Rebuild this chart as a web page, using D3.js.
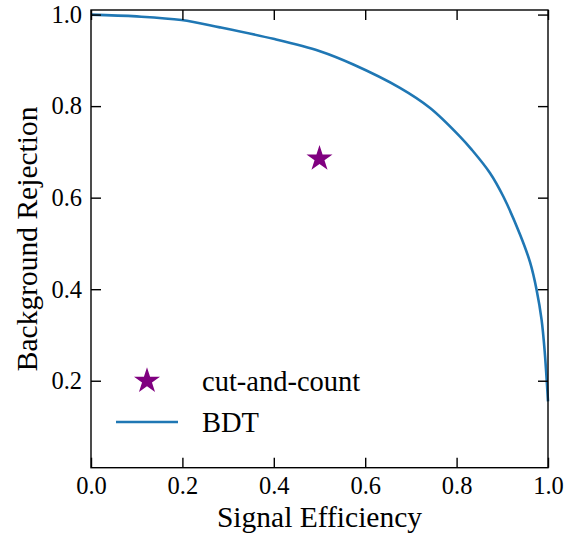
<!DOCTYPE html>
<html>
<head>
<meta charset="utf-8">
<script src="https://cdn.jsdelivr.net/npm/d3@7"></script>
<style>
html,body{margin:0;padding:0;background:#fff;}
svg{display:block;}
svg text{font-family:"Liberation Serif","Times New Roman","DejaVu Serif",serif !important;fill:#000;}
</style>
</head>
<body>
<svg id="chart" width="580" height="534"></svg>
<script>
// Data
const sigEff = [0, 0.1, 0.198, 0.282, 0.399, 0.501, 0.574, 0.676, 0.742, 0.807, 0.833, 0.873, 0.902, 0.939, 0.961, 0.975, 0.986, 0.993, 0.998, 1.0];
const bkgRej = [1.0, 0.996, 0.988, 0.972, 0.947, 0.920, 0.891, 0.840, 0.796, 0.734, 0.705, 0.654, 0.603, 0.519, 0.458, 0.399, 0.333, 0.261, 0.188, 0.155];
const cutCountEff = [0.5];
const cutCountRej = [0.685];
const xTicks = [0.0, 0.2, 0.4, 0.6, 0.8, 1.0];
const yTicks = [0.2, 0.4, 0.6, 0.8, 1.0];
const seriesNames = ["cut-and-count", "BDT"];

const svg = d3.select("#chart");
const L = 91, R = 548, T = 10, B = 467.7;
const x = d3.scaleLinear().domain([0, 1]).range([L, R]);
const y = d3.scaleLinear().domain([0.01, 1.01]).range([B, T]);
const fmt = d3.format(".1f");

// Curve
const pts = sigEff.map((d, i) => [d, bkgRej[i]]);
svg.append("path")
  .datum(pts)
  .attr("fill", "none")
  .attr("stroke", "#1f77b4")
  .attr("stroke-width", 2.6)
  .attr("d", d3.line().x(d => x(d[0])).y(d => y(d[1])).curve(d3.curveCatmullRom.alpha(0.5)));

// Star
const star = d3.symbol().type(d3.symbolStar).size(210);
svg.selectAll("path.star").data(cutCountEff).enter().append("path")
  .attr("class", "star")
  .attr("transform", (d, i) => `translate(${x(d)},${y(cutCountRej[i])})`)
  .attr("d", star)
  .attr("fill", "#800080");

// Axes with inward ticks
function styleAxis(g, showLabels) {
  g.select(".domain").remove();
  g.selectAll(".tick line").attr("stroke", "#000").attr("stroke-width", 1.4);
  g.selectAll(".tick text").style("font-size", "24.5px");
  if (!showLabels) g.selectAll(".tick text").remove();
}
const gx = svg.append("g").attr("transform", `translate(0,${B})`)
  .call(d3.axisBottom(x).tickValues(xTicks).tickFormat(fmt).tickSizeInner(-10).tickSizeOuter(0).tickPadding(9));
styleAxis(gx, true);
gx.selectAll(".tick text").attr("dy", null).attr("y", 26);
const gxt = svg.append("g").attr("transform", `translate(0,${T})`)
  .call(d3.axisTop(x).tickValues(xTicks).tickSizeInner(-10).tickSizeOuter(0));
styleAxis(gxt, false);
const gy = svg.append("g").attr("transform", `translate(${L},0)`)
  .call(d3.axisLeft(y).tickValues(yTicks).tickFormat(fmt).tickSizeInner(-10).tickSizeOuter(0).tickPadding(9));
styleAxis(gy, true);
const gyr = svg.append("g").attr("transform", `translate(${R},0)`)
  .call(d3.axisRight(y).tickValues(yTicks).tickSizeInner(-10).tickSizeOuter(0));
styleAxis(gyr, false);

// Frame
svg.append("rect").attr("x", L).attr("y", T).attr("width", R - L).attr("height", B - T)
  .attr("fill", "none").attr("stroke", "#000").attr("stroke-width", 1.4);

// Axis titles
svg.append("text").attr("x", (L + R) / 2).attr("y", 527)
  .attr("text-anchor", "middle").style("font-size", "29.5px")
  .text("Signal Efficiency");
svg.append("text").attr("transform", `translate(37,${(T + B) / 2}) rotate(-90)`)
  .attr("text-anchor", "middle").style("font-size", "29.5px")
  .text("Background Rejection");

// Legend
const lg = svg.append("g");
lg.append("path").attr("transform", "translate(147,381)").attr("d", star).attr("fill", "#800080");
lg.append("text").attr("x", 202).attr("y", 381).attr("dy", "0.35em")
  .style("font-size", "28.5px").text(seriesNames[0]);
lg.append("line").attr("x1", 116).attr("x2", 178).attr("y1", 422).attr("y2", 422)
  .attr("stroke", "#1f77b4").attr("stroke-width", 2.6);
lg.append("text").attr("x", 202).attr("y", 422).attr("dy", "0.35em")
  .style("font-size", "28.5px").text(seriesNames[1]);
</script>
</body>
</html>
